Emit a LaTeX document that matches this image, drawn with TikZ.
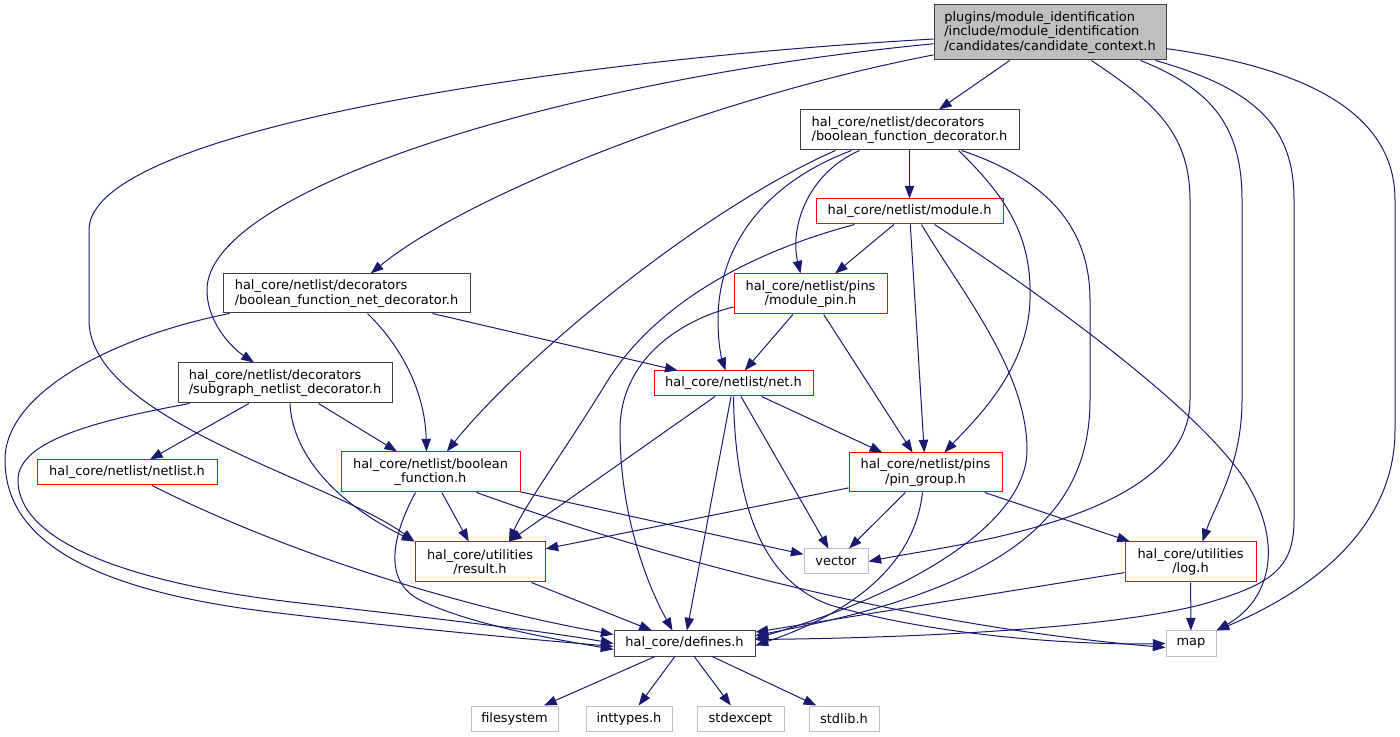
\documentclass[tikz,border=0pt]{standalone}
\usepackage{fontspec}
\setmainfont{DejaVu Sans}
\usetikzlibrary{arrows.meta,calc}
\definecolor{edgeblue}{RGB}{25,25,112}
\definecolor{ctxgray}{RGB}{191,191,191}
\definecolor{darkborder}{RGB}{64,64,64}
\definecolor{lightborder}{RGB}{191,191,191}
\definecolor{redborder}{RGB}{255,0,0}
\begin{document}
\begin{tikzpicture}[x=0.75pt,y=-0.75pt,
  every node/.style={font=\fontsize{9.7}{10.9}\selectfont, inner sep=0pt, text=black},
  box/.style 2 args={draw, rectangle, line width=0.75pt, minimum width=#1*0.75pt, minimum height=#2*0.75pt},
  blk/.style={draw=darkborder},
  rd/.style={draw=redborder},
  lf/.style={draw=lightborder},
  e/.style={draw=edgeblue, line width=0.75pt, -{Triangle[length=9.5pt,width=7pt]}}]
\useasboundingbox (0,0) rectangle (1400,737);

% nodes
\node[box={232}{55}, blk, fill=ctxgray, align=left] (ctx) at (1050,32.5) {plugins/module\_identification\\/include/module\_identification\\/candidates/candidate\_context.h};
\node[box={219}{40}, blk, align=left] (bfd) at (909.5,130) {hal\_core/netlist/decorators\\/boolean\_function\_decorator.h};
\node[box={187}{25}, rd] (mod) at (909.5,211.5) {hal\_core/netlist/module.h};
\node[box={247}{39}, blk, align=left] (bfnd) at (346.5,293.5) {hal\_core/netlist/decorators\\/boolean\_function\_net\_decorator.h};
\node[box={153}{40}, rd, align=center] (mpin) at (810.5,294) {hal\_core/netlist/pins\\/module\_pin.h};
\node[box={214}{40}, blk, align=left] (sub) at (285,383) {hal\_core/netlist/decorators\\/subgraph\_netlist\_decorator.h};
\node[box={159}{25}, rd] (net) at (733.5,383.5) {hal\_core/netlist/net.h};
\node[box={180}{25}, rd] (nl) at (127,472.5) {hal\_core/netlist/netlist.h};
\node[box={179}{40}, rd, align=center] (bf) at (430.5,472) {hal\_core/netlist/boolean\\\_function.h};
\node[box={153}{39}, rd, align=center] (pg) at (925.5,472.5) {hal\_core/netlist/pins\\/pin\_group.h};
\node[box={130}{40}, rd, align=center] (res) at (480,562) {hal\_core/utilities\\/result.h};
\node[box={64}{25}, lf] (vec) at (836,561.5) {vector};
\node[box={131}{40}, rd, align=center] (log) at (1190.5,562) {hal\_core/utilities\\/log.h};
\node[box={141}{25}, blk] (def) at (684.5,643.5) {hal\_core/defines.h};
\node[box={50}{25}, lf] (map) at (1191,643.5) {map};
\node[box={87}{25}, lf] (fs) at (514.5,718.5) {filesystem};
\node[box={86}{25}, lf] (int) at (629,718.5) {inttypes.h};
\node[box={87}{25}, lf] (sexc) at (740.5,718.5) {stdexcept};
\node[box={70}{25}, lf] (slib) at (844,718.5) {stdlib.h};

% edges from ctx
\draw[e] (ctx) -- (bfd);
\draw[e] (ctx) .. controls (560,60) and (89,130) .. (89,230) -- (89,320) .. controls (89,420) and (330,480) .. (res.north west);
\draw[e] (ctx) .. controls (560,80) and (207,190) .. (207,290) .. controls (207,325) and (235,350) .. (sub);
\draw[e] (ctx) .. controls (700,100) and (460,200) .. (bfnd);
\draw[e] (ctx) .. controls (1150,100) and (1190,130) .. (1190,200) -- (1190,400) .. controls (1190,520) and (950,545) .. (vec.east);
\draw[e] ($(ctx.south east)+(-26,0)$) .. controls (1215,90) and (1242,130) .. (1242,200) -- (1242,400) .. controls (1242,465) and (1215,505) .. ($(log.north)+(12,0)$);
\draw[e] ($(ctx.south east)+(-11,0)$) .. controls (1260,90) and (1294,130) .. (1294,200) -- (1294,520) .. controls (1294,570) and (1270,585) .. (1200,605) .. controls (1100,630) and (900,638) .. ($(def.east)+(0,-4)$);
\draw[e] (ctx) .. controls (1320,70) and (1395,120) .. (1395,200) -- (1395,430) .. controls (1395,540) and (1290,600) .. (map.north east);

% edges from bfd
\draw[e] (bfd) -- (mod);
\draw[e] ($(bfd.south west)+(60,0)$) .. controls (805,175) and (790,230) .. ($(mpin.north)+(-10,0)$);
\draw[e] ($(bfd.south west)+(52,0)$) .. controls (760,185) and (718,250) .. (718,320) .. controls (718,345) and (722,360) .. ($(net.north)+(-8,0)$);
\draw[e] ($(bfd.south west)+(36,0)$) .. controls (700,210) and (520,360) .. (bf);
\draw[e] ($(bfd.south east)+(-61,0)$) .. controls (1010,200) and (1032,240) .. (1030,300) .. controls (1028,370) and (975,420) .. (pg);
\draw[e] ($(bfd.south east)+(-58,0)$) .. controls (1050,180) and (1090,230) .. (1090,300) -- (1090,400) .. controls (1090,520) and (1000,590) .. ($(def.east)+(0,-8)$);

% edges from mod
\draw[e] (mod) -- (mpin);
\draw[e] (mod) -- (pg);
\draw[e] ($(mod.south west)+(39,0)$) .. controls (740,255) and (650,310) .. (605,385) .. controls (565,450) and (525,505) .. ($(res.north)+(29,0)$);
\draw[e] ($(mod.south)+(12,0)$) .. controls (960,290) and (1027,370) .. (1027,450) .. controls (1027,520) and (920,590) .. ($(def.east)+(0,-5)$);
\draw[e] ($(mod.south)+(25,0)$) .. controls (1050,300) and (1200,410) .. (1245,480) .. controls (1285,545) and (1270,600) .. (map.north east);

% edges from mpin
\draw[e] (mpin) -- (net);
\draw[e] (mpin) -- (pg);
\draw[e] ($(mpin.west)+(0,13)$) .. controls (680,320) and (620,360) .. (620,430) .. controls (620,520) and (650,590) .. ($(def.north)+(-12,0)$);

% edges from bfnd
\draw[e] (bfnd) -- (net);
\draw[e] ($(bfnd.south)+(21,0)$) .. controls (400,345) and (425,390) .. ($(bf.north)+(-4,0)$);
\draw[e] ($(bfnd.south west)+(7,0)$) .. controls (120,335) and (5,390) .. (5,460) .. controls (5,540) and (90,590) .. (270,612) .. controls (420,630) and (540,640) .. ($(def.west)+(0,3)$);

% edges from sub
\draw[e] (sub) -- (nl);
\draw[e] (sub) -- (bf);
\draw[e] ($(sub.south)+(5,0)$) .. controls (292,450) and (330,500) .. (res.north west);
\draw[e] ($(sub.south west)+(12,0)$) .. controls (100,420) and (18,440) .. (18,480) .. controls (18,545) and (140,585) .. (300,603) .. controls (450,620) and (550,632) .. (def.west);

% edges from net
\draw[e] (net) -- (res);
\draw[e] (net) -- (def);
\draw[e] (net) -- (vec);
\draw[e] (net) -- (pg);
\draw[e] ($(net.south)+(0,0)$) .. controls (735,500) and (760,580) .. (830,605) .. controls (950,640) and (1100,645) .. (map.west);

% edges from nl
\draw[e] ($(nl.south)+(25,0)$) .. controls (280,550) and (450,605) .. ($(def.west)+(0,-9)$);

% edges from bf
\draw[e] (bf) -- (res);
\draw[e] (bf) -- (vec);
\draw[e] ($(bf.south east)+(-44,0)$) .. controls (650,555) and (900,625) .. ($(map.west)+(0,4)$);
\draw[e] ($(bf.south)+(-15,0)$) .. controls (395,530) and (380,580) .. (420,600) .. controls (470,625) and (560,640) .. ($(def.west)+(0,6)$);

% edges from pg
\draw[e] (pg) -- (res);
\draw[e] (pg) -- (vec);
\draw[e] (pg) -- (log);
\draw[e] ($(pg.south)+(-3,0)$) .. controls (915,560) and (860,610) .. ($(def.east)+(0,2)$);

% remaining
\draw[e] (res) -- (def);
\draw[e] (log) -- (def);
\draw[e] (log) -- (map);
\draw[e] (def) -- (fs);
\draw[e] (def) -- (int);
\draw[e] (def) -- (sexc);
\draw[e] (def) -- (slib);
\end{tikzpicture}
\end{document}
